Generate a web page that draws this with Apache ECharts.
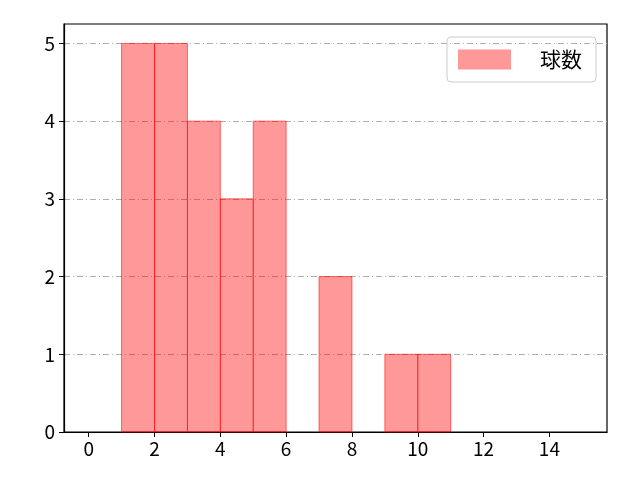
<!DOCTYPE html>
<html>
<head>
    <meta charset="utf-8">
    <title>球数</title>
    <script src="https://cdn.jsdelivr.net/npm/echarts@6/dist/echarts.min.js"></script>
    <style>
        html, body { margin: 0; padding: 0; background: #fff; }
        #chart { width: 640px; height: 480px; }
    </style>
</head>
<body>
<div id="chart"></div>
<script type="text/javascript">
    // histogram bins: left edge, right edge, count
    var binStart = [1, 2, 3, 4, 5, 6, 7, 8, 9, 10];
    var binEnd   = [2, 3, 4, 5, 6, 7, 8, 9, 10, 11];
    var counts   = [5, 5, 4, 3, 4, 0, 2, 0, 1, 1];
    var xTicks = [0, 2, 4, 6, 8, 10, 12, 14];
    var yTicks = [0, 1, 2, 3, 4, 5];
    var seriesName = '球数';

    var data = [];
    for (var i = 0; i < counts.length; i++) {
        data.push([binStart[i], binEnd[i], counts[i]]);
    }

    var myChart = echarts.init(document.getElementById('chart'));
    var font = '"Noto Sans CJK JP", "DejaVu Sans", sans-serif';

    option = {
        animation: false,
        textStyle: { fontFamily: font },
        grid: {
            left: 64, right: 33, top: 24, bottom: 48,
            show: true, borderColor: '#000', borderWidth: 1.2
        },
        legend: {
            right: 44, top: 37,
            padding: [12, 14, 12, 11],
            itemWidth: 53, itemHeight: 20, itemGap: 10,
            borderColor: '#ccc', borderWidth: 1, borderRadius: 4,
            textStyle: { fontSize: 21, color: '#000', fontFamily: font, padding: [0, 0, 0, 24] },
            data: [{ name: seriesName, icon: 'rect' }]
        },
        xAxis: {
            type: 'value', min: -0.75, max: 15.75,
            axisLine: { onZero: false, lineStyle: { color: '#000', width: 1.2 } },
            axisTick: { show: true, length: 5, customValues: xTicks, lineStyle: { color: '#000' } },
            axisLabel: { customValues: xTicks, fontSize: 19, color: '#000', margin: 7 },
            splitLine: { show: false }
        },
        yAxis: {
            type: 'value', min: 0, max: 5.25,
            axisLine: { show: true, onZero: false, lineStyle: { color: '#000', width: 1.2 } },
            axisTick: { show: true, length: 5, customValues: yTicks, lineStyle: { color: '#000' } },
            axisLabel: { customValues: yTicks, fontSize: 19, color: '#000', margin: 9 },
            splitLine: { show: true, lineStyle: { color: '#b0b0b0', width: 1, type: [6, 3, 1, 3] } }
        },
        series: [{
            name: seriesName,
            type: 'custom',
            itemStyle: { color: 'rgba(255,0,0,0.4)', borderColor: 'rgba(255,0,0,0.6)' },
            renderItem: function (params, api) {
                if (api.value(2) === 0) return null;
                var p0 = api.coord([api.value(0), 0]);
                var p1 = api.coord([api.value(1), api.value(2)]);
                return {
                    type: 'rect',
                    shape: { x: p0[0], y: p1[1], width: p1[0] - p0[0], height: p0[1] - p1[1] },
                    style: { fill: 'rgba(255,0,0,0.4)', stroke: 'rgba(255,0,0,0.55)', lineWidth: 1 }
                };
            },
            encode: { x: [0, 1], y: 2 },
            data: data
        }]
    };

    myChart.setOption(option);
</script>
</body>
</html>
